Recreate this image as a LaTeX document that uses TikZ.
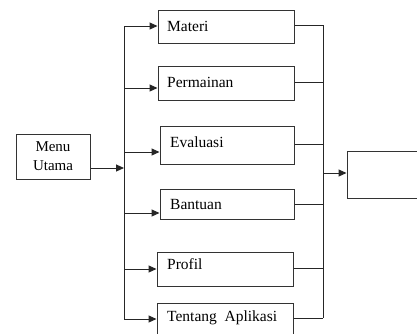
\documentclass[tikz,border=0pt]{standalone}
\usepackage{fontspec}
\setmainfont{Liberation Serif}
\usetikzlibrary{arrows.meta}
\begin{document}
\begin{tikzpicture}[x=1pt,y=-1pt,
  menubox/.style={draw=black!80,line width=1pt,inner sep=0pt,rectangle},
  lbl/.style={anchor=west,inner sep=0pt,font=\fontsize{15.5}{18}\selectfont},
  conn/.style={draw=black!85,line width=1pt},
  arr/.style={conn,-{Triangle[length=8pt,width=7pt]}}]
\useasboundingbox (0,0) rectangle (417,333);
\fill[white] (0,0) rectangle (417,333);
\begin{scope}
\clip (0,0) rectangle (417,333);
% boxes
\node[menubox,minimum width=74pt,minimum height=45pt,align=center,
      font=\fontsize{15}{19}\selectfont] (menu) at (53,156.5) {Menu\\Utama};
\node[menubox,minimum width=136pt,minimum height=33pt] (materi) at (226,26.5) {};
\node[menubox,minimum width=136pt,minimum height=34pt] (perm) at (226,83) {};
\node[menubox,minimum width=134pt,minimum height=38pt] (eval) at (227,145) {};
\node[menubox,minimum width=134pt,minimum height=30pt] (bant) at (227,204) {};
\node[menubox,minimum width=136pt,minimum height=34pt] (prof) at (225,269) {};
\node[menubox,minimum width=136pt,minimum height=42pt] (tent) at (225,324) {};
\node[menubox,minimum width=83pt,minimum height=47pt] (out) at (388.5,174.5) {};
% labels
\node[lbl] (tmateri) at (167,26) {Materi};
\node[lbl] (tperm) at (167,82) {Permainan};
\node[lbl] (teval) at (170,142) {Evaluasi};
\node[lbl] (tbant) at (170,204) {Bantuan};
\node[lbl] (tprof) at (167,264) {Profil};
\node[lbl] (ttent) at (167,318) {Tentang\hspace{0.5em}Aplikasi};
% left bus coordinates
\coordinate (L1) at (124,26);
\coordinate (L2) at (124,88);
\coordinate (L3) at (124,152);
\coordinate (L4) at (124,213);
\coordinate (L5) at (124,269);
\coordinate (L6) at (124,319);
\coordinate (m) at (124,168);
% right bus coordinates
\coordinate (R1) at (323,25);
\coordinate (R2) at (323,82);
\coordinate (R3) at (323,144);
\coordinate (R4) at (323,204);
\coordinate (R5) at (323,268);
\coordinate (R6) at (323,318);
\coordinate (o) at (323,173);
% buses
\draw[conn] (L1) -- (L6);
\draw[conn] (R1) -- (R6);
% menu to bus
\draw[arr] (menu.east |- m) -- (m);
% bus to boxes
\draw[arr] (L1) -- (L1 -| materi.west);
\draw[arr] (L2) -- (L2 -| perm.west);
\draw[arr] (L3) -- (L3 -| eval.west);
\draw[arr] (L4) -- (L4 -| bant.west);
\draw[arr] (L5) -- (L5 -| prof.west);
\draw[arr] (L6) -- (L6 -| tent.west);
% boxes to right bus
\draw[conn] (R1 -| materi.east) -- (R1);
\draw[conn] (R2 -| perm.east) -- (R2);
\draw[conn] (R3 -| eval.east) -- (R3);
\draw[conn] (R4 -| bant.east) -- (R4);
\draw[conn] (R5 -| prof.east) -- (R5);
\draw[conn] (R6 -| tent.east) -- (R6);
% output
\draw[arr] (o) -- (o -| out.west);
\end{scope}
\end{tikzpicture}
\end{document}
